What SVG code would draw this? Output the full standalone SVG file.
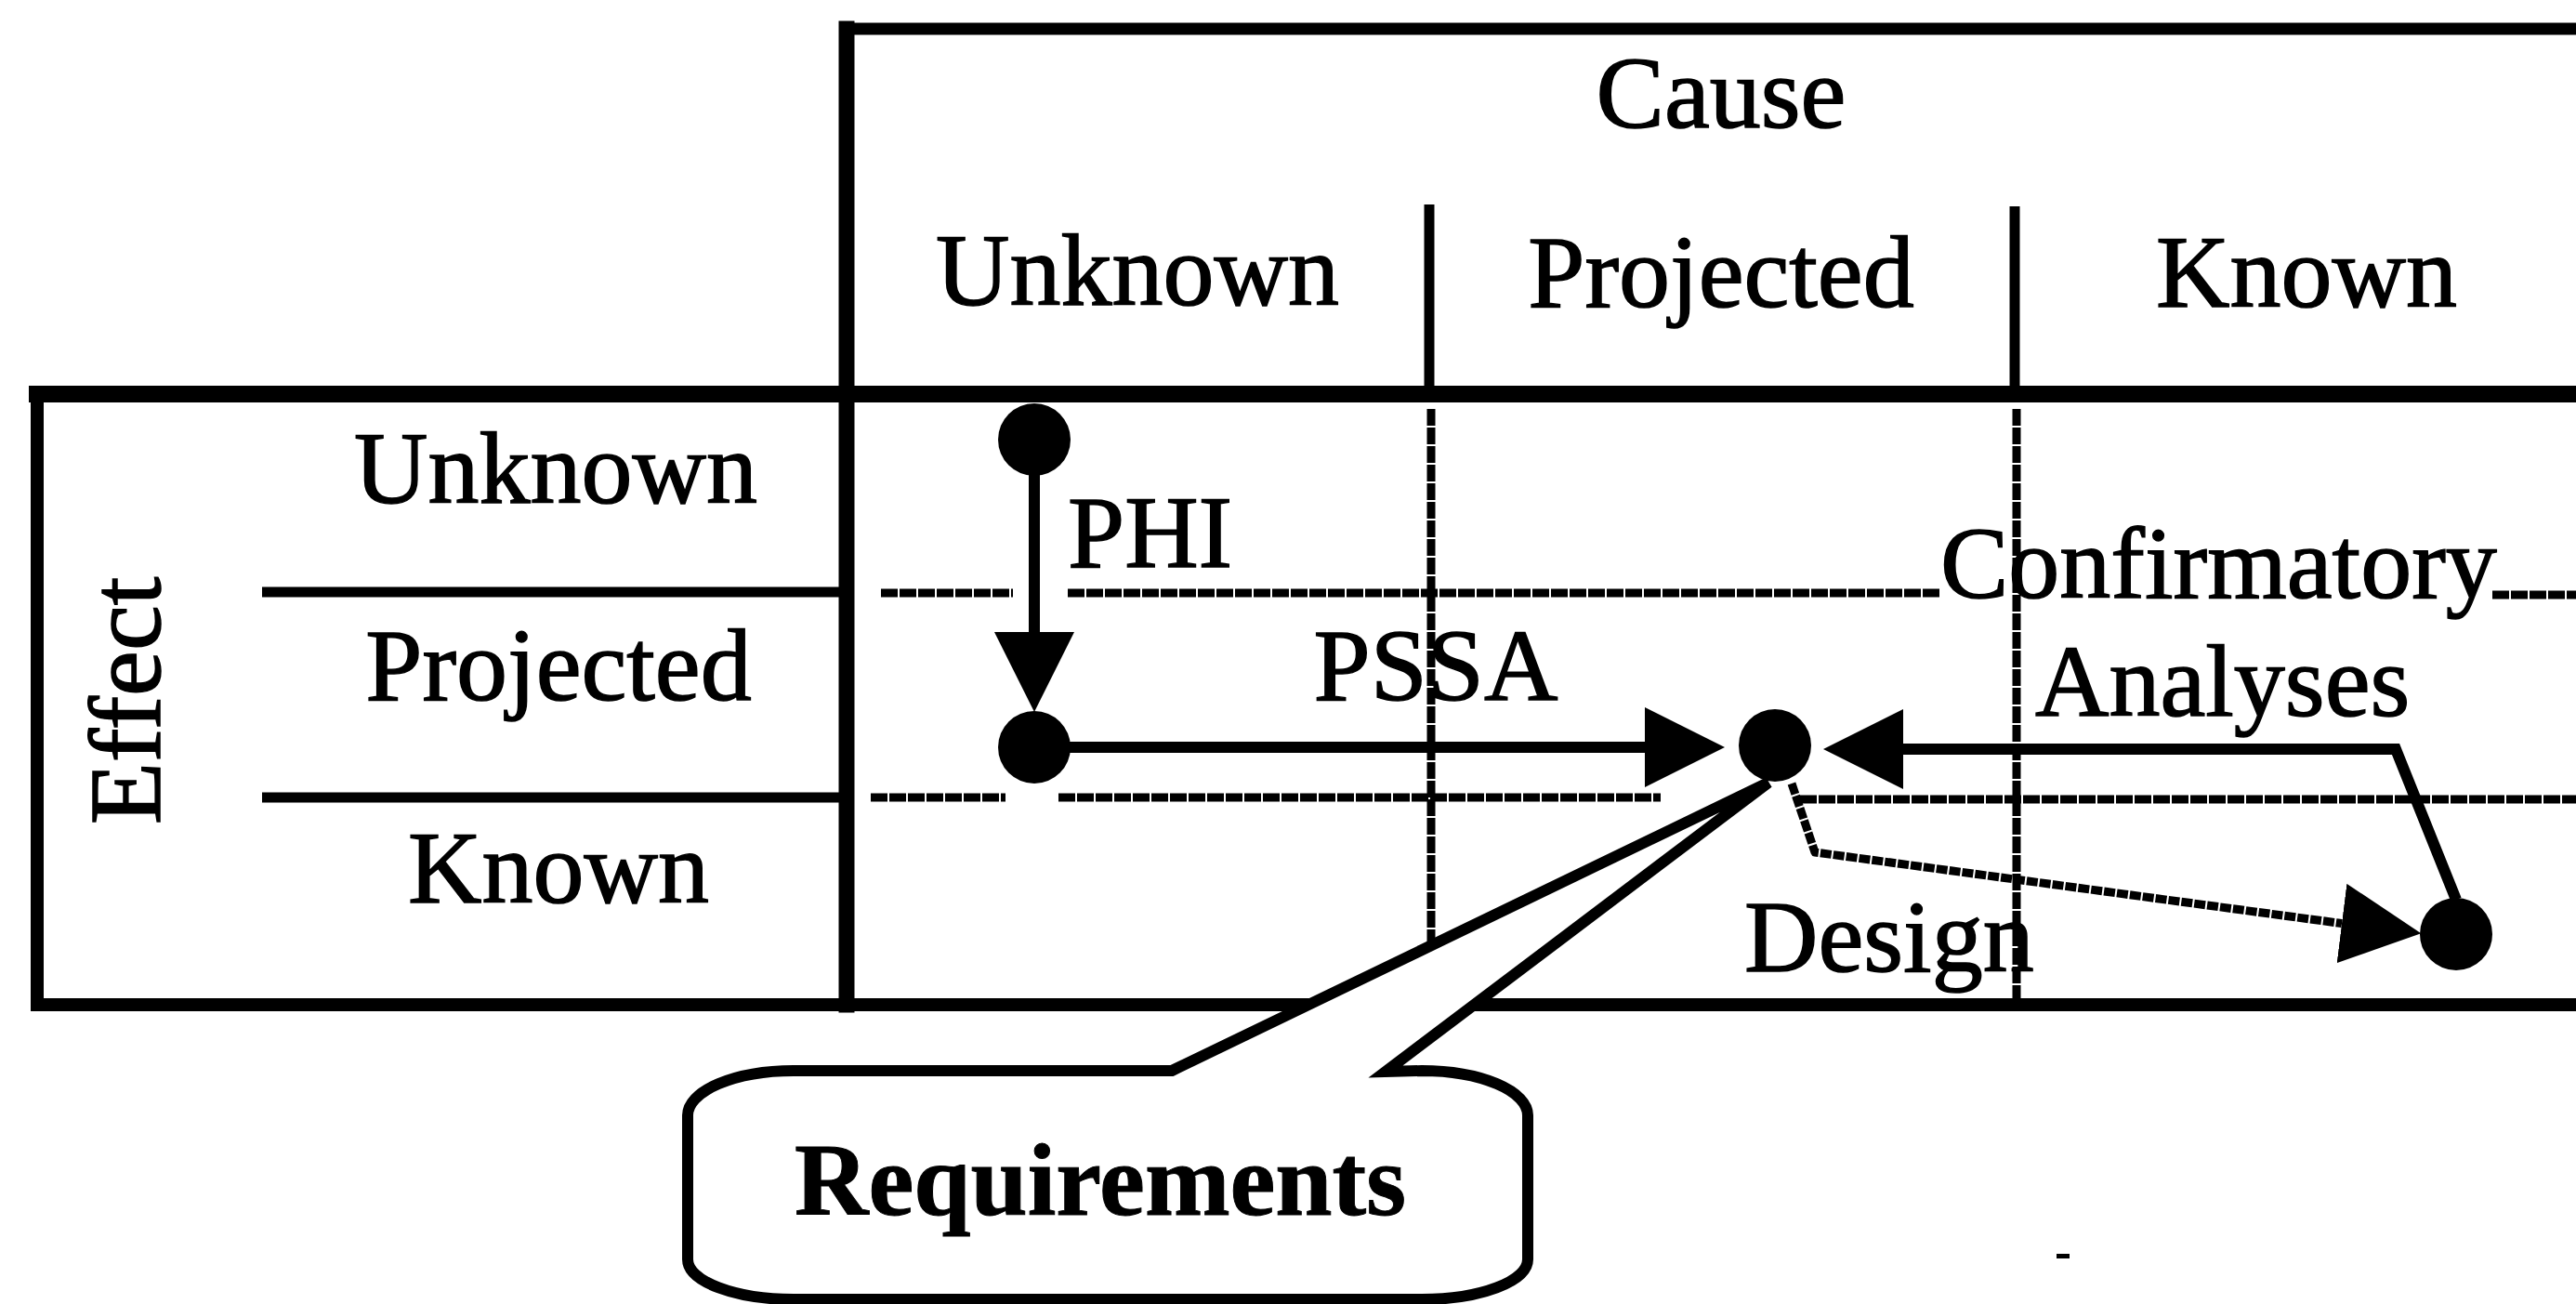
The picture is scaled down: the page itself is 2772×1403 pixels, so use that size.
<svg xmlns="http://www.w3.org/2000/svg" width="2772" height="1403" viewBox="0 0 2772 1403">
  <style>
    text { font-family: "Liberation Serif", "Times New Roman", serif; font-size: 110px; fill: #000; stroke: #000; stroke-width: 1.5px; }
    .mid { text-anchor: middle; }
    .bold { font-weight: bold; stroke-width: 1px; }
    .frame { stroke: #000; fill: none; stroke-linecap: square; }
    .thin { stroke: #000; stroke-width: 11; fill: none; }
    .grid { stroke: #000; stroke-width: 9; fill: none; stroke-dasharray: 18 2; }
    .conn { stroke: #000; stroke-width: 12; fill: none; stroke-linejoin: miter; }
    .dash { stroke: #000; stroke-width: 9; fill: none; stroke-dasharray: 12 2; stroke-linejoin: round; }
    .dot { fill: #000; }
  </style>
  <defs>
    <marker id="head" viewBox="0 0 86 86" refX="0" refY="43" markerWidth="86" markerHeight="86" markerUnits="userSpaceOnUse" orient="auto">
      <path d="M0,0 L86,43 L0,86 Z" fill="#000"/>
    </marker>
  </defs>
  <rect width="2772" height="1403" fill="#fff"/>

  <!-- Cause header: frame, dividers and labels -->
  <g id="cause-header">
    <line class="frame" x1="911" y1="31" x2="2772" y2="31" stroke-width="13"/>
    <line class="thin" x1="1538" y1="220" x2="1538" y2="423"/>
    <line class="thin" x1="2168" y1="222" x2="2168" y2="423"/>
    <text class="mid" x="1852" y="137">Cause</text>
    <text class="mid" x="1224" y="328">Unknown</text>
    <text class="mid" x="1852" y="330">Projected</text>
    <text class="mid" x="2482" y="330">Known</text>
  </g>

  <!-- Effect header: box, row rules and labels -->
  <g id="effect-header">
    <line class="frame" x1="40" y1="425" x2="40" y2="1080" stroke-width="14"/>
    <line class="thin" x1="282" y1="637" x2="906" y2="637" stroke-width="10"/>
    <line class="thin" x1="282" y1="858" x2="906" y2="858" stroke-width="10"/>
    <text class="mid" x="598" y="541">Unknown</text>
    <text class="mid" x="601" y="753">Projected</text>
    <text class="mid" x="601" y="971">Known</text>
    <text class="mid" transform="translate(172,754) rotate(-90)">Effect</text>
  </g>

  <!-- Matrix body: outer rules and dotted cell grid -->
  <g id="matrix">
    <line class="frame" x1="40" y1="424" x2="2772" y2="424" stroke-width="18"/>
    <line class="frame" x1="40" y1="1081" x2="2772" y2="1081" stroke-width="14"/>
    <line class="frame" x1="911" y1="31" x2="911" y2="1081" stroke-width="17"/>
    <path class="grid" d="M948,638 H1090 M1149,638 H2088 M2682,640 H2772"/>
    <path class="grid" d="M937,858 H1082 M1139,858 H1787 M1937,860 H2772"/>
    <path class="grid" d="M1540,440 V1077 M2170,440 V1077"/>
  </g>

  <!-- Connectors between the states -->
  <g id="connectors">
    <path class="conn" d="M1113,511 V680" marker-end="url(#head)"/>
    <path class="conn" d="M1150,804 H1770" marker-end="url(#head)"/>
    <path class="conn" d="M2643,968 L2578,806 H2048" marker-end="url(#head)"/>
    <path class="dash" d="M1928,843 L1953,917 L2516,993 L2520,993.5" marker-end="url(#head)"/>
    <text x="1149" y="610">PHI</text>
    <text class="mid" x="1545" y="753">PSSA</text>
    <text x="2088" y="643">Confirmatory</text>
    <text x="2190" y="770">Analyses</text>
    <text x="1877" y="1045">Design</text>
  </g>

  <!-- State nodes -->
  <g id="node-unknown-unknown"><circle class="dot" cx="1113" cy="473" r="39"/></g>
  <g id="node-unknown-projected"><circle class="dot" cx="1113" cy="804" r="39"/></g>
  <g id="node-projected-projected"><circle class="dot" cx="1910" cy="802" r="39"/></g>
  <g id="node-known-known"><circle class="dot" cx="2643" cy="1005" r="39"/></g>

  <!-- Requirements callout -->
  <g id="requirements">
    <path d="M1261,1152 L1903,842 L1491,1153 L1530,1152 A114,48 0 0 1 1644,1200 L1644,1355 A114,43 0 0 1 1530,1398 L854,1398 A114,43 0 0 1 740,1355 L740,1200 A114,48 0 0 1 854,1152 Z" fill="#fff" stroke="#000" stroke-width="12"/>
    <text class="mid bold" x="1184" y="1307">Requirements</text>
  </g>

  <rect x="2213" y="1349" width="14" height="5" fill="#000"/>
</svg>
